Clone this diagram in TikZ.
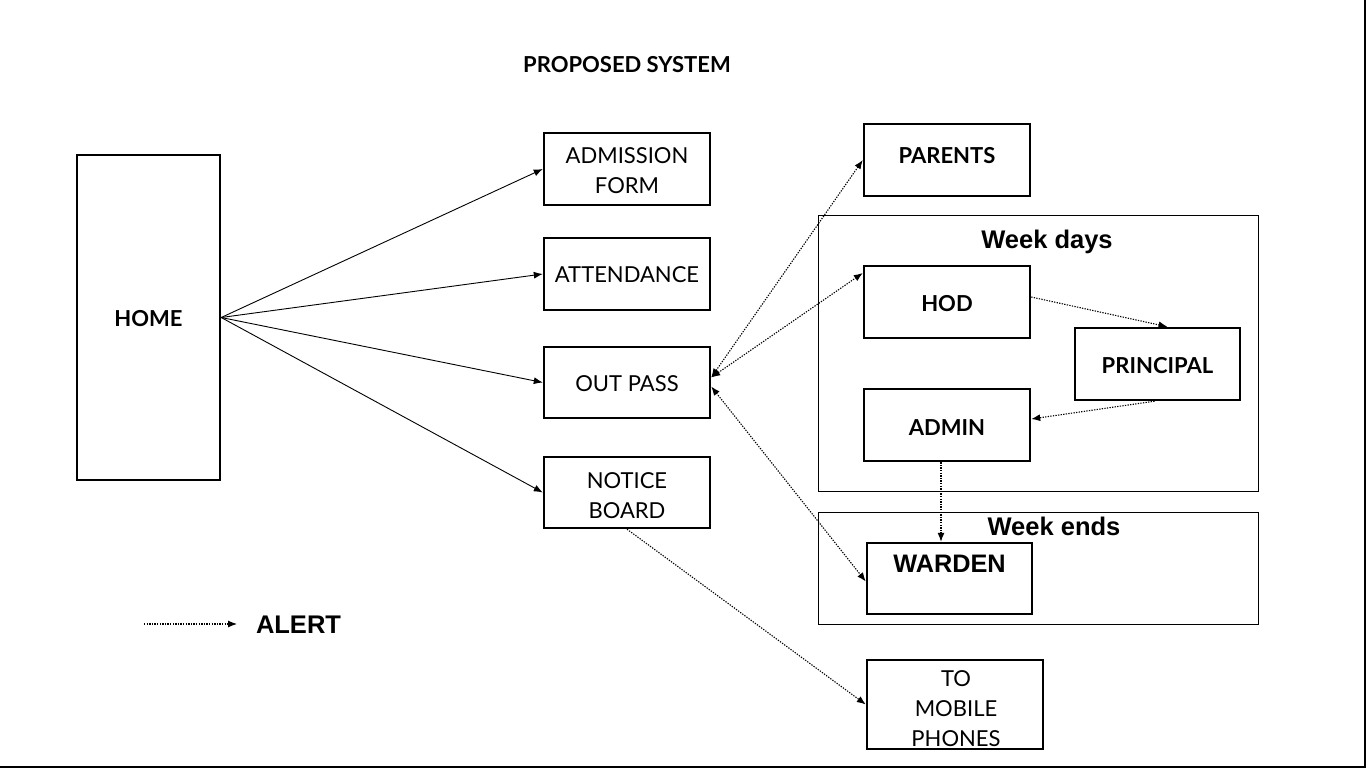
\documentclass[tikz,border=0pt]{standalone}
\usepackage{fontspec}
\setmainfont{Lato}
\newfontfamily\arialf{Liberation Sans}
\usetikzlibrary{arrows.meta}
\newcommand{\lowr}[1]{\rule{0pt}{#1}}
\begin{document}
\begin{tikzpicture}[x=1pt,y=-1pt,
  box/.style={draw=black,line width=2.4pt,minimum width=166pt,minimum height=72pt,inner sep=0pt,align=center,font=\fontsize{22}{30}\selectfont},
  bbox/.style={box,font=\fontsize{22}{30}\selectfont\bfseries},
  group/.style={draw=black,line width=0.9pt,inner sep=0pt},
  grouplbl/.style={font=\arialf\fontsize{25.5}{30}\selectfont\bfseries,inner sep=0pt},
  solidarrow/.style={line width=0.9pt,-{Latex[length=9pt,width=7pt]}},
  alert/.style={line width=1.1pt,black,dash pattern=on 1.3pt off 1.3pt,-{Latex[length=9pt,width=7pt]}},
  alertboth/.style={alert,{Latex[length=9pt,width=7pt]}-{Latex[length=9pt,width=7pt]}}
]
\useasboundingbox (0,0) rectangle (1366,768);
\fill[white] (0,0) rectangle (1366,768);
\draw[line width=2pt] (1365,0) -- (1365,767) -- (0,767);

\node[font=\fontsize{22}{26}\selectfont\bfseries,inner sep=0pt] (title) at (627,65) {PROPOSED SYSTEM};

\node[bbox,minimum width=143pt,minimum height=325pt] (home) at (148.5,317.5) {\lowr{18pt}HOME};

\node[box] (adm) at (627,169) {\lowr{20pt}ADMISSION\\FORM};
\node[box] (att) at (627,274) {\lowr{18pt}ATTENDANCE};
\node[box,minimum height=71pt] (out) at (627,382.5) {\lowr{18pt}OUT PASS};
\node[box,minimum height=71pt] (notice) at (627,492.5) {\lowr{22pt}NOTICE\\BOARD};

\node[group,minimum width=440pt,minimum height=276pt] (weekdays) at (1038,353) {};
\node[grouplbl] (wdlbl) at (1047,241.5) {Week days};
\node[group,minimum width=440pt,minimum height=112pt] (weekends) at (1038,568) {};
\node[grouplbl] (welbl) at (1054,526) {Week ends};

\node[bbox] (parents) at (947,160) {\raisebox{9pt}{PARENTS}};
\node[bbox] (hod) at (947,302) {\lowr{20pt}HOD};
\node[bbox,minimum width=165pt] (principal) at (1157.5,364) {\lowr{20pt}PRINCIPAL};
\node[bbox] (admin) at (947,425) {\lowr{20pt}ADMIN};
\node[box,minimum width=165pt,minimum height=71pt] (warden) at (949.5,578.5) {};
\node[font=\arialf\fontsize{25.3}{30}\selectfont\bfseries,inner sep=0pt] (wardenlbl) at (949.5,564) {WARDEN};
\node[box,minimum width=176pt,minimum height=89pt] (mobile) at (955,704.5) {};
\node[align=center,font=\fontsize{22}{30}\selectfont,inner sep=0pt] (mobilelbl) at (956,709) {TO\\MOBILE\\PHONES};

\foreach \t in {adm,att,out,notice}
  \draw[solidarrow] (home.east) -- (\t.west);

\draw[alertboth] ([yshift=5pt]out.east) -- (parents.west);
\draw[alertboth] ([yshift=5pt]out.east) -- ([yshift=29pt]hod.west);
\draw[alertboth] ([yshift=-4pt]out.east) -- ([yshift=-3pt]warden.west);
\draw[alert] ([yshift=5pt]hod.east) -- ([xshift=10pt]principal.north);
\draw[alert] ([xshift=-3pt]principal.south) -- ([yshift=6pt]admin.east);
\draw[alert] ([xshift=-6pt]admin.south) -- ([xshift=-8.5pt]warden.north);
\draw[alert] (notice.south) -- (mobile.west);

\coordinate (alertA) at (144,624);
\coordinate (alertB) at (237,624);
\draw[alert] (alertA) -- (alertB);
\node[font=\arialf\fontsize{25.5}{30}\selectfont\bfseries,inner sep=0pt] (alertlbl) at (298.5,625) {ALERT};
\end{tikzpicture}
\end{document}
